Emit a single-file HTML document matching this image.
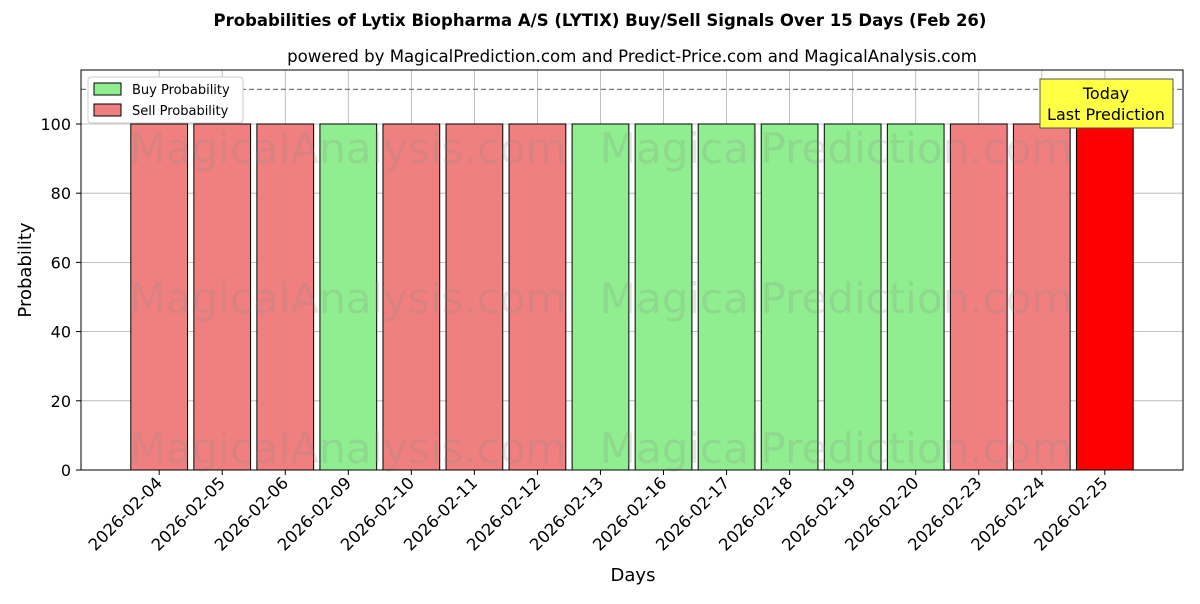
<!DOCTYPE html>
<html><head><meta charset="utf-8"><style>
body{margin:0;background:#fff;font-family:"DejaVu Sans","Liberation Sans",sans-serif}
</style></head><body>
<svg id="chart" width="1200" height="600" xmlns="http://www.w3.org/2000/svg" font-family="DejaVu Sans, Liberation Sans, sans-serif">
<text x="600" y="26" text-anchor="middle" font-size="16.5" font-weight="bold">Probabilities of Lytix Biopharma A/S (LYTIX) Buy/Sell Signals Over 15 Days (Feb 26)</text>
<text x="632" y="62" text-anchor="middle" font-size="16.6">powered by MagicalPrediction.com and Predict-Price.com and MagicalAnalysis.com</text>
<g id="grid"></g>
<g id="bars"></g>
<g id="wm" font-size="42" fill="#888" opacity="0.2"></g>
<g id="axes"></g>
</svg>
<script>
const categories=["2026-02-04","2026-02-05","2026-02-06","2026-02-09","2026-02-10","2026-02-11","2026-02-12","2026-02-13","2026-02-16","2026-02-17","2026-02-18","2026-02-19","2026-02-20","2026-02-23","2026-02-24","2026-02-25"];
const signals=["sell","sell","sell","buy","sell","sell","sell","buy","buy","buy","buy","buy","buy","sell","sell","today"];
const probabilities=[100,100,100,100,100,100,100,100,100,100,100,100,100,100,100,100];
const yTicks=[0,20,40,60,80,100];
const NS="http://www.w3.org/2000/svg";
const L=81,R=1183,T=70,B=470,xmin=-1.24,xmax=16.24,ymax=115.6;
const xs=i=>L+(i-xmin)/(xmax-xmin)*(R-L);
const ys=v=>B-v/ymax*(B-T);
function mk(tag,attrs,parent,text){const e=document.createElementNS(NS,tag);for(const k in attrs)e.setAttribute(k,attrs[k]);if(text!==undefined)e.textContent=text;parent.appendChild(e);return e;}
const grid=document.getElementById('grid'),bars=document.getElementById('bars'),axes=document.getElementById('axes'),wm=document.getElementById('wm');
yTicks.forEach(v=>{
 const g=mk('line',{x1:L,x2:R,y1:ys(v),y2:ys(v),stroke:'#b0b0b0','stroke-width':0.8},grid);
 
 
 const t=mk('text',{x:L-10,y:ys(v)+6,'text-anchor':'end','font-size':16},axes,String(v));
 
 
 mk('line',{x1:L-5,x2:L,y1:ys(v),y2:ys(v),stroke:'#000'},axes);
});
categories.forEach((c,i)=>{
 mk('line',{x1:xs(i),x2:xs(i),y1:T,y2:B,stroke:'#b0b0b0','stroke-width':0.8},grid);
});
[148,298,448].forEach(y=>{
 mk('text',{x:348,y:y+15,'text-anchor':'middle'},wm,'MagicalAnalysis.com');
 mk('text',{x:836,y:y+15,'text-anchor':'middle'},wm,'MagicalPrediction.com');
});
mk('line',{x1:L,x2:R,y1:ys(110),y2:ys(110),stroke:'#777','stroke-width':1.2,'stroke-dasharray':'5,3'},grid);
const colors={buy:'#90ee90',sell:'#f08080',today:'#ff0000'};
categories.forEach((c,i)=>{
 const w=0.9/(xmax-xmin)*(R-L);
 const r=mk('rect',{x:xs(i)-w/2,y:ys(probabilities[i]),width:w,height:B-ys(probabilities[i]),fill:colors[signals[i]],stroke:'#000','stroke-width':1},bars);
 
 
 mk('line',{x1:xs(i),x2:xs(i),y1:B,y2:B+5,stroke:'#000'},axes);
 const t=mk('text',{x:xs(i)+4,y:B+14,'text-anchor':'end','font-size':16.5,transform:`rotate(-45 ${xs(i)+4} ${B+14})`},axes,c);
 
 
});
mk('rect',{x:L,y:T,width:R-L,height:B-T,fill:'none',stroke:'#000','stroke-width':1},axes);
const yl=mk('text',{x:31,y:270,'text-anchor':'middle','font-size':18,transform:'rotate(-90 31 270)'},axes,'Probability');


const xl=mk('text',{x:633,y:581,'text-anchor':'middle','font-size':18},axes,'Days');


const lg=mk('g',{},axes);


mk('rect',{x:88,y:77,width:155,height:46,fill:'#fff',stroke:'#ccc',rx:3},lg);
mk('rect',{x:94,y:83,width:27,height:12,fill:colors.buy,stroke:'#000'},lg);
mk('text',{x:132,y:94,'font-size':13},lg,'Buy Probability');
mk('rect',{x:94,y:104,width:27,height:12,fill:colors.sell,stroke:'#000'},lg);
mk('text',{x:132,y:115,'font-size':13},lg,'Sell Probability');
const tb=mk('g',{},axes);


mk('rect',{x:1040,y:79,width:133,height:49,fill:'#ffff44',stroke:'#555'},tb);
mk('text',{x:1106,y:99,'text-anchor':'middle','font-size':16},tb,'Today');
mk('text',{x:1106,y:120,'text-anchor':'middle','font-size':16},tb,'Last Prediction');
</script>
</body></html>
